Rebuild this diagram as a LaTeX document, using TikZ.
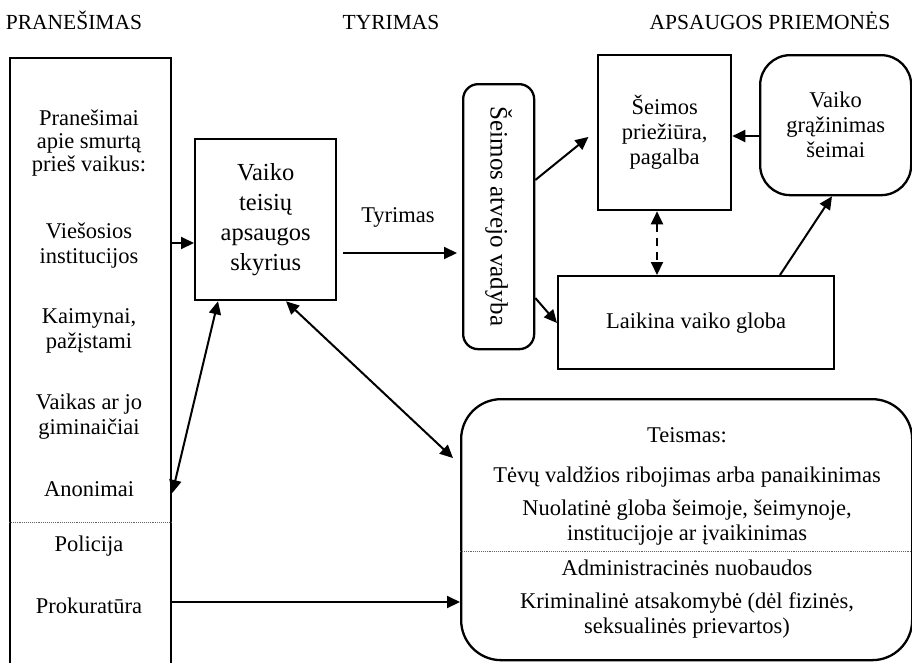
\documentclass[tikz,border=0pt]{standalone}
\usepackage{fontspec}
\setmainfont{Liberation Serif}
\usetikzlibrary{arrows.meta}
\newcommand{\fa}{\fontsize{22.5}{25}\selectfont}
\newcommand{\fb}{\fontsize{24.5}{30}\selectfont}
\newcommand{\fc}{\fontsize{25}{30}\selectfont}
\newcommand{\fh}{\fontsize{21.5}{25}\selectfont}
\tikzset{
  box/.style={draw, line width=2.3pt, inner sep=0pt, align=center, font=\fa},
  txt/.style={inner sep=0pt, align=center, font=\fa},
  arr/.style={line width=2pt, -{Triangle[length=13pt,width=12pt]}},
  darr/.style={line width=2pt, {Triangle[length=13pt,width=12pt]}-{Triangle[length=13pt,width=12pt]}},
  sep/.style={line width=0.9pt, densely dotted, black!60}
}
\begin{document}
\begin{tikzpicture}[x=1pt,y=-1pt]
\useasboundingbox (0,0) rectangle (912,662);
% headers
\node[txt, font=\fh, anchor=base] (hp) at (74,29) {PRANEŠIMAS};
\node[txt, font=\fh, anchor=base] (ht) at (391,29) {TYRIMAS};
\node[txt, font=\fh, anchor=base] (ha) at (770,29) {APSAUGOS PRIEMONĖS};
% left box
\node[box, minimum width=161pt, minimum height=660pt, anchor=north west] (L) at (9,57) {};
\node[txt, font=\fontsize{22.5}{23}\selectfont] (l1) at (89,143) {Pranešimai\\apie smurtą\\prieš vaikus:};
\node[txt] (l2) at (89,246) {Viešosios\\institucijos};
\node[txt] (l3) at (89,331) {Kaimynai,\\pažįstami};
\node[txt] (l4) at (89,417) {Vaikas ar jo\\giminaičiai};
\node[txt] (l5) at (89,489) {Anonimai};
\node[txt] (l6) at (89,546) {Policija};
\node[txt] (l7) at (89,606) {Prokuratūra};
\draw[sep] (L.west |- 0,522) -- (L.east |- 0,522);
% Vaiko teisiu apsaugos skyrius
\node[box, font=\fb, minimum width=141pt, minimum height=161pt, anchor=north west] (V) at (194,138) {Vaiko\\teisių\\apsaugos\\skyrius};
% Seimos atvejo vadyba
\node[box, rounded corners=15pt, minimum width=71pt, minimum height=265pt, anchor=north west] (A) at (462,83) {};
\node[txt, font=\fc, rotate=-90] (At) at (A.center) {Šeimos atvejo vadyba};
% Seimos prieziura
\node[box, minimum width=133pt, minimum height=155pt, anchor=north west] (S) at (597,54) {Šeimos\\priežiūra,\\pagalba};
% Vaiko grazinimas
\node[box, rounded corners=30pt, minimum width=151pt, minimum height=140pt, anchor=north west] (G) at (759,54) {Vaiko\\grąžinimas\\šeimai};
% Laikina vaiko globa
\node[box, minimum width=276pt, minimum height=93pt, anchor=north west] (K) at (557,275) {Laikina vaiko globa};
% Teismas
\node[box, rounded corners=40pt, minimum width=451pt, minimum height=261pt, anchor=north west] (T) at (460,398) {};
\node[txt] (t1) at (687,435) {Teismas:};
\node[txt] (t2) at (687,477) {Tėvų valdžios ribojimas arba panaikinimas};
\node[txt] (t3) at (687,522.5) {Nuolatinė globa šeimoje, šeimynoje,\\institucijoje ar įvaikinimas};
\node[txt] (t4) at (687,568) {Administracinės nuobaudos};
\node[txt] (t5) at (687,615.5) {Kriminalinė atsakomybė (dėl fizinės,\\seksualinės prievartos)};
\draw[sep] (T.west |- 0,551) -- (T.east |- 0,551);
% connectors
\draw[arr] (L.east |- 0,243) -- (V.west |- 0,243);
\draw[arr, shorten <=6pt, shorten >=5pt] (V.east |- 0,253) -- (A.west |- 0,253);
\node[txt] (ty) at (398,217) {Tyrimas};
\draw[arr, shorten >=11pt] (A.east |- 0,180) -- (S.west |- 0,130);
\draw[arr] (A.east |- 0,298) -- (K.west |- 0,323);
\draw[darr, dash pattern=on 8pt off 6pt] (S.south -| 657,0) -- (K.north -| 657,0);
\draw[arr] (G.west |- 0,136) -- (S.east |- 0,136);
\draw[arr] (K.north -| 780,0) -- (G.south -| 832,0);
\draw[darr] (V.south -| 218,0) -- (L.east |- 0,493);
\draw[darr, shorten >=9.6pt] (V.south -| 286,0) -- (T.west |- 0,464.6);
\draw[arr] (L.east |- 0,602) -- (T.west |- 0,602);
\end{tikzpicture}
\end{document}
